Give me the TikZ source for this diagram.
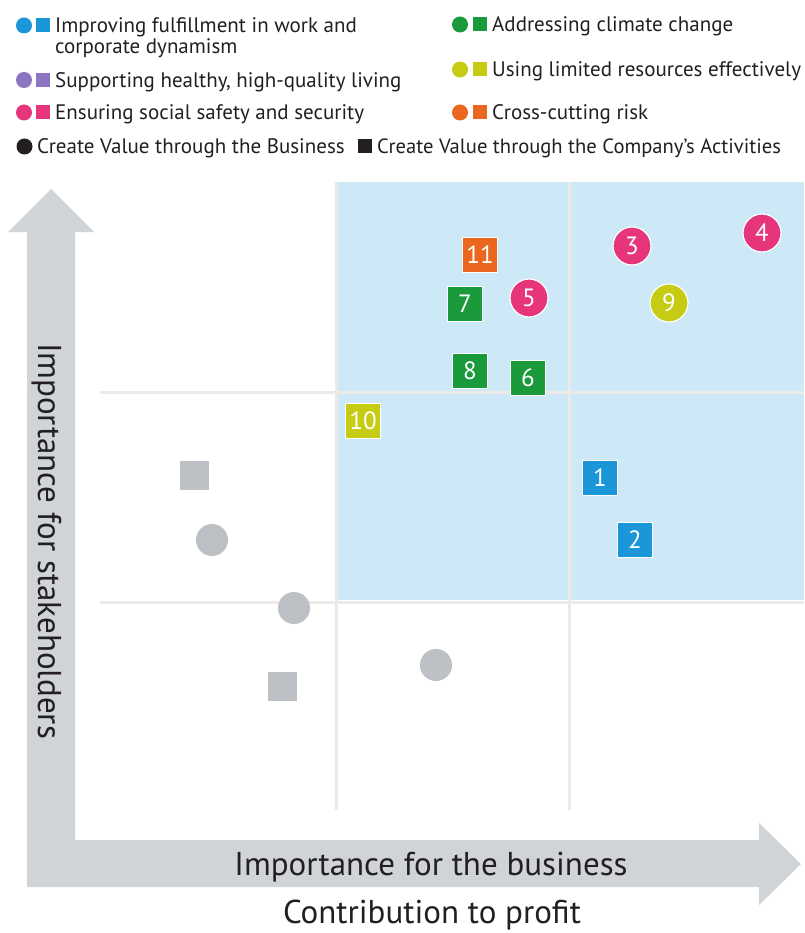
\documentclass[tikz,border=0pt]{standalone}
\usepackage{fontspec}
\setmainfont{PT Sans}
\newfontfamily\legfont{PT Sans}
\newfontfamily\numfont{PT Sans}
\definecolor{arrowgray}{HTML}{D1D4D7}
\definecolor{markgray}{HTML}{BDC1C5}
\definecolor{bgblue}{HTML}{CDE8F6}
\definecolor{gridc}{HTML}{ECE9E6}
\definecolor{cblue}{HTML}{1A96D9}
\definecolor{cpurple}{HTML}{8B74C0}
\definecolor{cpink}{HTML}{E6357B}
\definecolor{cgreen}{HTML}{1B9A3B}
\definecolor{cyellow}{HTML}{C6CC14}
\definecolor{corange}{HTML}{EB661E}
\definecolor{ctext}{HTML}{231F20}
\tikzset{
  legtext/.style={anchor=base west, inner sep=0pt, text=ctext, font=\legfont\fontsize{21}{24}\selectfont},
  lcirc/.style={circle, fill=#1, minimum size=16pt, inner sep=0pt},
  lsq/.style={rectangle, fill=#1, minimum size=14pt, inner sep=0pt},
  sqm/.style={rectangle, fill=#1, draw=white, line width=1.2pt, minimum size=35pt, inner sep=0pt, text=white, font=\numfont\fontsize{25}{25}\selectfont},
  cim/.style={circle, fill=#1, draw=white, line width=1.2pt, minimum size=38pt, inner sep=0pt, text=white, font=\numfont\fontsize{25}{25}\selectfont},
  gsq/.style={rectangle, fill=markgray, minimum size=29pt, inner sep=0pt},
  gci/.style={circle, fill=markgray, minimum size=32pt, inner sep=0pt},
  gridline/.style={draw=gridc, line width=3pt},
  axlabel/.style={inner sep=0pt, anchor=base, text=ctext, font=\fontsize{33}{36}\selectfont}
}
\begin{document}
\begin{tikzpicture}[x=1pt,y=1pt]
\useasboundingbox (0,0) rectangle (804,-933);
\fill[white] (0,0) rectangle (804,-933);
% blue region
\fill[bgblue] (337,-182) rectangle (804,-600);
% grid lines
\coordinate (h1a) at (100,-392); \coordinate (h1b) at (804,-392);
\coordinate (h2a) at (100,-602); \coordinate (h2b) at (804,-602);
\coordinate (v1a) at (336,-182); \coordinate (v1b) at (336,-810);
\coordinate (v2a) at (569,-182); \coordinate (v2b) at (569,-810);
\draw[gridline] (h1a) -- (h1b);
\draw[gridline] (h2a) -- (h2b);
\draw[gridline] (v1a) -- (v1b);
\draw[gridline] (v2a) -- (v2b);
% axes arrow (L shape)
\fill[arrowgray] (8,-232) -- (51,-189) -- (94,-232) -- (75,-232) -- (75,-840) -- (759,-840) -- (759,-823) -- (801,-864) -- (759,-905) -- (759,-887) -- (27,-887) -- (27,-232) -- cycle;
% axis labels
\node[axlabel, rotate=-90] (ylab) at (38,-541) {Importance for stakeholders};
\node[axlabel] (xlab) at (431,-875) {Importance for the business};
\node[axlabel] (plab) at (432,-923) {Contribution to profit};
% gray markers
\node[gsq] (g1) at (194,-475) {};
\node[gci] (g2) at (212,-540) {};
\node[gci] (g3) at (294,-608) {};
\node[gsq] (g4) at (282,-686) {};
\node[gci] (g5) at (436,-665) {};
% coloured markers
\node[sqm=corange] (m11) at (480,-255) {11};
\node[sqm=cgreen] (m7) at (465,-304) {7};
\node[cim=cpink] (m5) at (529,-298) {5};
\node[sqm=cgreen] (m8) at (470,-371) {8};
\node[sqm=cgreen] (m6) at (528,-378) {6};
\node[sqm=cyellow] (m10) at (363,-421) {10};
\node[cim=cpink] (m3) at (632,-246) {3};
\node[cim=cpink] (m4) at (762,-233) {4};
\node[cim=cyellow] (m9) at (669,-303) {9};
\node[sqm=cblue] (m1) at (600,-478) {1};
\node[sqm=cblue] (m2) at (635,-540) {2};
% legend left
\node[lcirc=cblue] (lc1) at (24,-25.5) {};
\node[lsq=cblue] (ls1) at (42.5,-25.5) {};
\node[legtext] (lt1) at (55,-33) {Improving fulfillment in work and};
\node[legtext] (lt1b) at (55,-54) {corporate dynamism};
\node[lcirc=cpurple] (lc2) at (24,-80) {};
\node[lsq=cpurple] (ls2) at (42.5,-80) {};
\node[legtext] (lt2) at (55,-87.5) {Supporting healthy, high-quality living};
\node[lcirc=cpink] (lc3) at (24,-112.5) {};
\node[lsq=cpink] (ls3) at (42.5,-112.5) {};
\node[legtext] (lt3) at (55,-120) {Ensuring social safety and security};
\node[lcirc=ctext] (lc4) at (24.5,-146.5) {};
\node[legtext] (lt4) at (37,-154) {Create Value through the Business};
\node[lsq=ctext] (ls4) at (364.5,-146.5) {};
\node[legtext, font=\legfont\fontsize{20.6}{24}\selectfont] (lt5) at (377,-154) {Create Value through the Company’s Activities};
% legend right
\node[lcirc=cgreen] (lc5) at (460,-24.5) {};
\node[lsq=cgreen] (ls5) at (480,-24.5) {};
\node[legtext] (lt6) at (492,-32) {Addressing climate change};
\node[lcirc=cyellow] (lc6) at (460,-69.5) {};
\node[lsq=cyellow] (ls6) at (480,-69.5) {};
\node[legtext] (lt7) at (492,-77) {Using limited resources effectively};
\node[lcirc=corange] (lc7) at (460,-112.5) {};
\node[lsq=corange] (ls7) at (480,-112.5) {};
\node[legtext] (lt8) at (492,-120) {Cross-cutting risk};
\end{tikzpicture}
\end{document}
